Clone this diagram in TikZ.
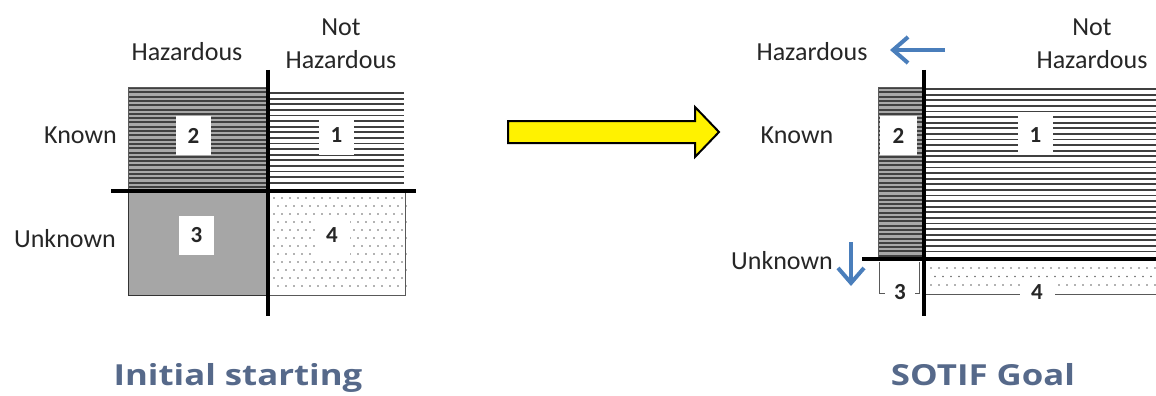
\documentclass[tikz,border=0pt]{standalone}
\usepackage{fontspec}
\setmainfont{Carlito}
\newfontfamily\titlefont{Open Sans}[FakeStretch=1.2]
\usetikzlibrary{arrows.meta}
\definecolor{titleblue}{HTML}{56698A}
\definecolor{arrowblue}{HTML}{4A7EBB}
\definecolor{qtwofill}{HTML}{A8A8A8}
\definecolor{qtwoline}{HTML}{404040}
\begin{document}
\begin{tikzpicture}[x=1pt,y=-1pt,
  lbl/.style={font=\fontsize{26}{33}\selectfont, text=black!85, inner sep=0, align=center},
  numbox/.style={fill=white, minimum width=35pt, minimum height=39pt, inner sep=0, font=\fontsize{23}{25}\selectfont\bfseries, text=black!85},
  axis/.style={line width=4pt, black},
  ttl/.style={font=\titlefont\bfseries\fontsize{29}{31}\selectfont, text=titleblue, inner sep=0, anchor=base},
  bluearrow/.style={line width=4pt, color=arrowblue, -{Straight Barb[length=15pt,width=26pt,line width=4pt]}},
  stripe/.style={line width=1.8pt, black!75},
  darkstripe/.style={line width=2pt, qtwoline},
  dotty/.style={fill=black!60},
  thinborder/.style={line width=0.9pt, black!65}
]
\useasboundingbox (0,0) rectangle (1156,396);

% ================= LEFT DIAGRAM =================
% Q2 (known hazardous)
\fill[qtwofill] (128,87) rectangle (268,190);
\begin{scope}
  \clip (128,87) rectangle (268,190);
  \foreach \y in {88,92.3,...,191} \draw[darkstripe] (128,\y) -- (268,\y);
\end{scope}
\draw[thinborder] (128,190) -- (128,87) -- (268,87);
% Q1 (known not hazardous)
\foreach \y in {93,98.6,...,188} \draw[stripe] (270,\y) -- (404,\y);
% Q3 (unknown hazardous)
\fill[black!35] (128,193) rectangle (268,295);
\draw[line width=1pt, black!80] (128,193) -- (128,295) -- (268,295);
% Q4 (unknown not hazardous)
\foreach \r in {0,...,11} {
  \pgfmathsetmacro{\yy}{198+8*\r}
  \pgfmathsetmacro{\xo}{mod(\r,2)*4}
  \foreach \c in {0,...,16} {
    \fill[dotty] ({274+\xo+8*\c},\yy) circle (0.95pt);
  }
}
\draw[thinborder] (270,295) -- (405,295) -- (405,193);
% number boxes
\node[numbox] (nlTwo) at (193.5,135.5) {2};
\node[numbox] (nlOne) at (336.5,135.5) {1};
\node[numbox] (nlThree) at (196.5,235) {3};
\node[numbox] (nlFour) at (332,235) {4};
% axes
\draw[axis] (268,70) -- (268,316);
\draw[axis] (111,191) -- (416,191);
% labels
\node[lbl] (hazL) at (187,52) {Hazardous};
\node[lbl] (notHazL) at (341,44) {Not\\Hazardous};
\node[lbl, anchor=east] (knownL) at (117,135) {Known};
\node[lbl, anchor=east] (unknownL) at (116,239) {Unknown};

% ================= YELLOW ARROW =================
\filldraw[fill=yellow, draw=black, line width=2pt, line join=miter]
  (508,121) -- (695,121) -- (695,107) -- (719,132) -- (695,157) -- (695,143) -- (508,143) -- cycle;

% ================= RIGHT DIAGRAM =================
% Q2
\fill[qtwofill] (878,87) rectangle (922,257);
\begin{scope}
  \clip (878,87) rectangle (922,257);
  \foreach \y in {88,92.3,...,258} \draw[darkstripe] (878,\y) -- (922,\y);
\end{scope}
\draw[thinborder] (878,257) -- (878,87) -- (922,87);
% Q1
\foreach \y in {89,94.6,...,257} \draw[stripe] (926,\y) -- (1156,\y);
% Q3
\draw[thinborder] (879,262) -- (879,293) -- (919,293) -- (919,262);
% Q4
\foreach \r in {0,1,2} {
  \pgfmathsetmacro{\yy}{268+8.5*\r}
  \pgfmathsetmacro{\xo}{mod(\r,2)*4}
  \foreach \c in {0,...,28} {
    \fill[dotty] ({931+\xo+8*\c},\yy) circle (0.95pt);
  }
}
\draw[thinborder] (926,294.5) -- (1156,294.5);
% number boxes
\node[numbox, minimum width=37pt] (nrTwo) at (898.5,135.5) {2};
\node[numbox] (nrOne) at (1035.5,135.5) {1};
\node[numbox, minimum width=30pt, minimum height=26pt] (nrThree) at (900,292) {3};
\node[numbox, minimum width=35pt, minimum height=26pt] (nrFour) at (1037,292) {4};
% axes
\draw[axis] (924,70) -- (924,316);
\draw[axis] (862,259) -- (1156,259);
% labels
\node[lbl] (hazR) at (812,52) {Hazardous};
\node[lbl] (notHazR) at (1092,44) {Not\\Hazardous};
\node[lbl] (knownR) at (797,135) {Known};
\node[lbl] (unknownR) at (782,261) {Unknown};
% blue arrows
\coordinate (hazArrowStart) at (945,50);
\coordinate (hazArrowEnd) at (890,50);
\draw[bluearrow] (hazArrowStart) -- (hazArrowEnd);
\coordinate (unkArrowStart) at (851,242);
\coordinate (unkArrowEnd) at (851,286);
\draw[bluearrow] (unkArrowStart) -- (unkArrowEnd);

% ================= TITLES =================
\node[ttl] (titleL) at (238,385) {Initial starting};
\node[ttl] (titleR) at (983,385) {SOTIF Goal};
\end{tikzpicture}
\end{document}
